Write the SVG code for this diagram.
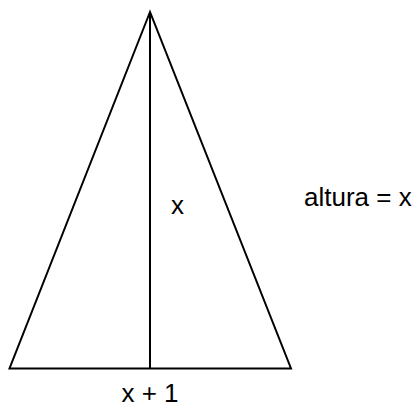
<svg xmlns="http://www.w3.org/2000/svg" width="417" height="408" viewBox="0 0 417 408">
<style>
.ln{stroke:#000;stroke-width:2;fill:none;stroke-linejoin:miter}
.t{font-family:"Liberation Sans",Arial,sans-serif;font-size:26px;fill:#000}
</style>
<rect width="417" height="408" fill="#fff"/>
<g id="triangle">
<polygon class="ln" points="150,12 9.5,368.5 291,368.5"/>
</g>
<g id="connectors">
<line class="ln" x1="150" y1="12" x2="150" y2="368.5"/>
</g>
<g id="labels">
<text class="t" x="150" y="402" text-anchor="middle">x + 1</text>
<text class="t" x="171" y="214">x</text>
<text class="t" x="304" y="206">altura = x</text>
</g>
</svg>
